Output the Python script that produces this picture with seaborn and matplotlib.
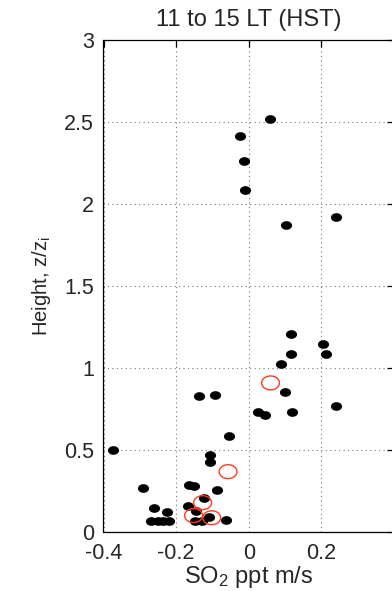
import numpy as np
import matplotlib
matplotlib.use("Agg")
import matplotlib.pyplot as plt
from matplotlib.path import Path
import seaborn as sns
import pandas as pd

# SO2 flux profile, 11 to 15 LT (HST)
flux_filled = [0.058, -0.024, -0.014, -0.010, 0.240, 0.102,
               0.115, 0.205, 0.213, 0.116, 0.090, 0.100,
               -0.137, -0.093, 0.240, 0.025, 0.045, 0.120,
               -0.054, -0.374, -0.107, -0.107, -0.291, -0.164,
               -0.152, -0.087, -0.123, -0.260, -0.226, -0.167,
               -0.144, -0.109, -0.269, -0.251, -0.237, -0.219,
               -0.147, -0.128, -0.063]
height_filled = [2.516, 2.415, 2.264, 2.085, 1.919, 1.872,
                 1.205, 1.144, 1.083, 1.083, 1.026, 0.854,
                 0.829, 0.835, 0.770, 0.732, 0.711, 0.732,
                 0.587, 0.502, 0.469, 0.429, 0.266, 0.287,
                 0.279, 0.256, 0.209, 0.148, 0.124, 0.159,
                 0.128, 0.089, 0.067, 0.067, 0.067, 0.067,
                 0.070, 0.070, 0.073]

flux_open = [0.060, -0.057, -0.127, -0.152, -0.102]
height_open = [0.909, 0.368, 0.179, 0.100, 0.087]

x_ticks = [-0.4, -0.2, 0, 0.2]
x_tick_labels = ["-0.4", "-0.2", "0", "0.2"]
y_ticks = [0, 0.5, 1, 1.5, 2, 2.5, 3]
y_tick_labels = ["0", "0.5", "1", "1.5", "2", "2.5", "3"]

sns.set_style("white")
plt.rcParams["font.family"] = ["Liberation Sans", "DejaVu Sans"]
plt.rcParams["mathtext.fontset"] = "custom"
plt.rcParams["mathtext.rm"] = "Liberation Sans"
plt.rcParams["mathtext.it"] = "Liberation Sans"

# slightly flattened circle marker
t = np.linspace(0, 2 * np.pi, 60)
ellipse = Path(np.column_stack([np.cos(t), 0.78 * np.sin(t)]), closed=True)

fig = plt.figure(figsize=(3.92, 5.91), dpi=100)
ax = fig.add_axes([103.5 / 392, 59 / 591, 290.5 / 392, 492 / 591])

df_f = pd.DataFrame({"flux": flux_filled, "z": height_filled})
df_o = pd.DataFrame({"flux": flux_open, "z": height_open})

sns.scatterplot(data=df_f, x="flux", y="z", ax=ax, marker=ellipse, s=64,
                color="black", edgecolor="black", linewidth=0, zorder=3)
sns.scatterplot(data=df_o, x="flux", y="z", ax=ax, marker=ellipse, s=165,
                facecolor="none", edgecolor="#ff3b1f", linewidth=1.0, zorder=4)

ax.set_xlim(-0.4, 0.4)
ax.set_ylim(0, 3)
ax.set_xticks(x_ticks)
ax.set_xticklabels(x_tick_labels)
ax.set_yticks(y_ticks)
ax.set_yticklabels(y_tick_labels)

ax.grid(True, color="#777777", linestyle=(0, (1, 3)), linewidth=0.8)
ax.set_axisbelow(True)
for sp in ax.spines.values():
    sp.set_visible(True)
    sp.set_color("black")
    sp.set_linewidth(0.9)

ax.tick_params(direction="in", length=5, width=0.9, labelsize=15.5,
               top=True, right=True, color="black")
ax.tick_params(axis="x", pad=8)
ax.tick_params(axis="y", pad=7)

ax.set_xlabel("SO$_2$ ppt m/s", fontsize=17, labelpad=0)
ax.set_ylabel("Height, z/z$_\\mathrm{i}$", fontsize=14.5, labelpad=8)
ax.set_title("11 to 15 LT (HST)", fontsize=17, pad=10)

fig.savefig("out.png", dpi=100)
